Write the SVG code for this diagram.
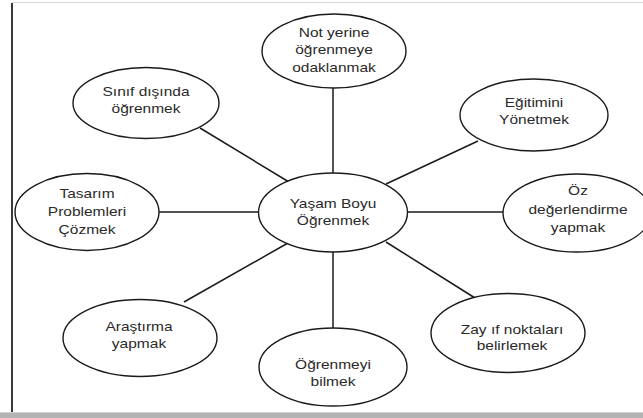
<svg xmlns="http://www.w3.org/2000/svg" width="643" height="418" viewBox="0 0 643 418">
<style>
.node ellipse{fill:#fff;stroke:#1a1a1a;stroke-width:1.4}
.node text{font-family:"Liberation Sans",Arial,sans-serif;font-size:12.5px;fill:#2a2a2a;text-anchor:middle}
.conn line{stroke:#1a1a1a;stroke-width:1.5}
</style>
<rect x="0" y="0" width="643" height="418" fill="#fff"/>
<g id="frame">
<line x1="12" y1="2.5" x2="643" y2="2.5" stroke="#d8d8d8" stroke-width="1"/>
<line x1="12" y1="3" x2="12" y2="413" stroke="#3a3a3a" stroke-width="2"/>
<line x1="0" y1="412.5" x2="643" y2="412.5" stroke="#d4d4d4" stroke-width="1"/>
<rect x="0" y="413" width="643" height="5" fill="#b4b4b4"/>
</g>
<g id="connectors" class="conn">
<line x1="333" y1="86" x2="333" y2="173"/>
<line x1="200" y1="128" x2="289" y2="182"/>
<line x1="478" y1="141" x2="386" y2="184"/>
<line x1="159" y1="212" x2="258" y2="212"/>
<line x1="407" y1="212" x2="503" y2="212"/>
<line x1="184" y1="302" x2="288" y2="243"/>
<line x1="333" y1="252" x2="333" y2="328"/>
<line x1="475" y1="298" x2="386" y2="242"/>
</g>
<g id="n-center" class="node">
<ellipse cx="333" cy="212.5" rx="74.5" ry="39.5"/>
<text transform="translate(333,208) scale(1.24,1)"><tspan x="0" y="0">Yaşam Boyu</tspan><tspan x="0" y="17">Öğrenmek</tspan></text>
</g>
<g id="n-not" class="node">
<ellipse cx="334" cy="51" rx="72" ry="37"/>
<text transform="translate(334,37) scale(1.24,1)"><tspan x="0" y="0">Not yerine</tspan><tspan x="0" y="17.5">öğrenmeye</tspan><tspan x="0" y="35">odaklanmak</tspan></text>
</g>
<g id="n-sinif" class="node">
<ellipse cx="146" cy="103" rx="73" ry="35.5"/>
<text transform="translate(146,96) scale(1.24,1)"><tspan x="0" y="0">Sınıf dışında</tspan><tspan x="0" y="17">öğrenmek</tspan></text>
</g>
<g id="n-egitim" class="node">
<ellipse cx="534" cy="115" rx="74" ry="36"/>
<text transform="translate(534,107) scale(1.24,1)"><tspan x="0" y="0">Eğitimini</tspan><tspan x="0" y="17">Yönetmek</tspan></text>
</g>
<g id="n-tasarim" class="node">
<ellipse cx="87" cy="212" rx="72" ry="38.5"/>
<text transform="translate(87,198) scale(1.24,1)"><tspan x="0" y="0">Tasarım</tspan><tspan x="0" y="18">Problemleri</tspan><tspan x="0" y="36">Çözmek</tspan></text>
</g>
<g id="n-oz" class="node">
<ellipse cx="577" cy="213" rx="74" ry="39"/>
<text transform="translate(578,195) scale(1.24,1)"><tspan x="0" y="0">Öz</tspan><tspan x="0" y="19">değerlendirme</tspan><tspan x="0" y="37">yapmak</tspan></text>
</g>
<g id="n-arastirma" class="node">
<ellipse cx="140" cy="338" rx="77" ry="38.5"/>
<text transform="translate(139,331) scale(1.24,1)"><tspan x="0" y="0">Araştırma</tspan><tspan x="0" y="17">yapmak</tspan></text>
</g>
<g id="n-ogrenmeyi" class="node">
<ellipse cx="333" cy="367" rx="74" ry="39"/>
<text transform="translate(333,369) scale(1.24,1)"><tspan x="0" y="0">Öğrenmeyi</tspan><tspan x="0" y="17">bilmek</tspan></text>
</g>
<g id="n-zayif" class="node">
<ellipse cx="508" cy="333" rx="77" ry="39.5"/>
<text transform="translate(512,334) scale(1.24,1)"><tspan x="0" y="0">Zay ıf noktaları</tspan><tspan x="0" y="16">belirlemek</tspan></text>
</g>
</svg>
